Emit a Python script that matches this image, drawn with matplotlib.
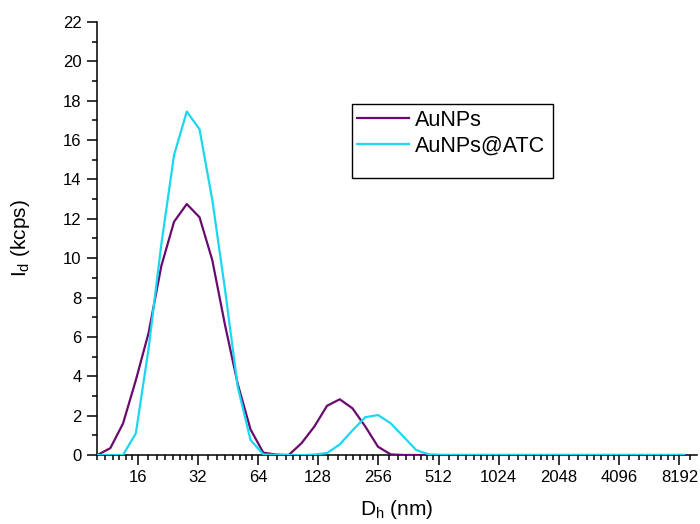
import numpy as np
import matplotlib
matplotlib.use("Agg")
import matplotlib.pyplot as plt
from matplotlib.ticker import FixedLocator, FuncFormatter, MultipleLocator
from matplotlib.patches import Rectangle

plt.rcParams['font.family'] = ['Liberation Sans', 'DejaVu Sans']
plt.rcParams['mathtext.fontset'] = 'custom'
plt.rcParams['mathtext.rm'] = 'Liberation Sans'
plt.rcParams['mathtext.it'] = 'Liberation Sans:italic'

# size bins (nm)
sizes = [10.1, 11.7, 13.54, 15.69, 18.17, 21.04, 24.36, 28.21, 32.67, 37.84,
         43.82, 50.75, 58.77, 68.06, 78.82, 91.28, 105.7, 122.4, 141.8, 164.2,
         190.1, 220.2, 255.0, 295.3, 342.0, 396.1, 458.7, 531.2, 615.1, 712.4,
         825.0, 955.4, 1106, 1281, 1484, 1718, 1990, 2305, 2669, 3091,
         3580, 4145, 4801, 5560, 6439, 7456, 8635]

aunps = [0, 0.35, 1.6, 3.8, 6.2, 9.6, 11.85, 12.75, 12.08, 9.9,
         6.6, 3.6, 1.3, 0.12, 0.02, 0, 0.6, 1.44, 2.5, 2.83,
         2.37, 1.45, 0.42, 0.03, 0, 0, 0, 0, 0, 0,
         0, 0, 0, 0, 0, 0, 0, 0, 0, 0,
         0, 0, 0, 0, 0, 0, 0]

aunps_atc = [0, 0, 0, 1.1, 5.4, 10.7, 15.24, 17.45, 16.55, 12.96,
             8.4, 3.45, 0.76, 0.03, 0, 0, 0, 0.02, 0.1, 0.54,
             1.25, 1.92, 2.03, 1.61, 0.93, 0.25, 0.03, 0, 0, 0,
             0, 0, 0, 0, 0, 0, 0, 0, 0, 0,
             0, 0, 0, 0, 0, 0, 0]

xticks = [16, 32, 64, 128, 256, 512, 1024, 2048, 4096, 8192]

fig = plt.figure(figsize=(7, 5.24), dpi=100)
ax = fig.add_axes([96.7/700, 69/524, 600/700, 433/524])

ax.plot(sizes, aunps, color='#690a6e', lw=1.6, label='AuNPs', zorder=3)
ax.plot(sizes, aunps_atc, color='#1ad7f2', lw=1.6, label='AuNPs@ATC', zorder=4)

ax.set_xscale('log', base=2)
ax.set_xlim(10, 10000)
ax.set_ylim(0, 22)

minor = []
for t in [8] + xticks:
    for k in range(1, 8):
        minor.append(t * (1 + k / 8))
ax.xaxis.set_major_locator(FixedLocator(xticks))
ax.xaxis.set_minor_locator(FixedLocator(minor))
ax.xaxis.set_major_formatter(FuncFormatter(lambda v, p: '%d' % v))
ax.xaxis.set_minor_formatter(FuncFormatter(lambda v, p: ''))
ax.yaxis.set_major_locator(MultipleLocator(2))
ax.yaxis.set_minor_locator(MultipleLocator(1))

for s in ['top', 'right']:
    ax.spines[s].set_visible(False)
for s in ['left', 'bottom']:
    ax.spines[s].set_linewidth(1.1)

ax.tick_params(which='major', direction='out', length=7, width=1.1, labelsize=12, pad=4)
ax.tick_params(which='minor', direction='out', length=3.6, width=1.1)

ax.set_xlabel('D$_{\\rm h}$ (nm)', fontsize=15, labelpad=9)
ax.set_ylabel('I$_{\\rm d}$ (kcps)', fontsize=15, labelpad=22)

# legend box
fig.patches.append(Rectangle((352/700, 1 - 178/524), 201/700, 74/524,
                             transform=fig.transFigure, fill=False,
                             edgecolor='black', lw=1.0))
ax.legend(loc='upper left', bbox_to_anchor=(357/700, 1 - 110/524),
          bbox_transform=fig.transFigure, frameon=False, fontsize=15.5,
          handlelength=2.4, handletextpad=0.28, labelspacing=0.2,
          borderpad=0, borderaxespad=0)

fig.savefig('out.png', dpi=100)
